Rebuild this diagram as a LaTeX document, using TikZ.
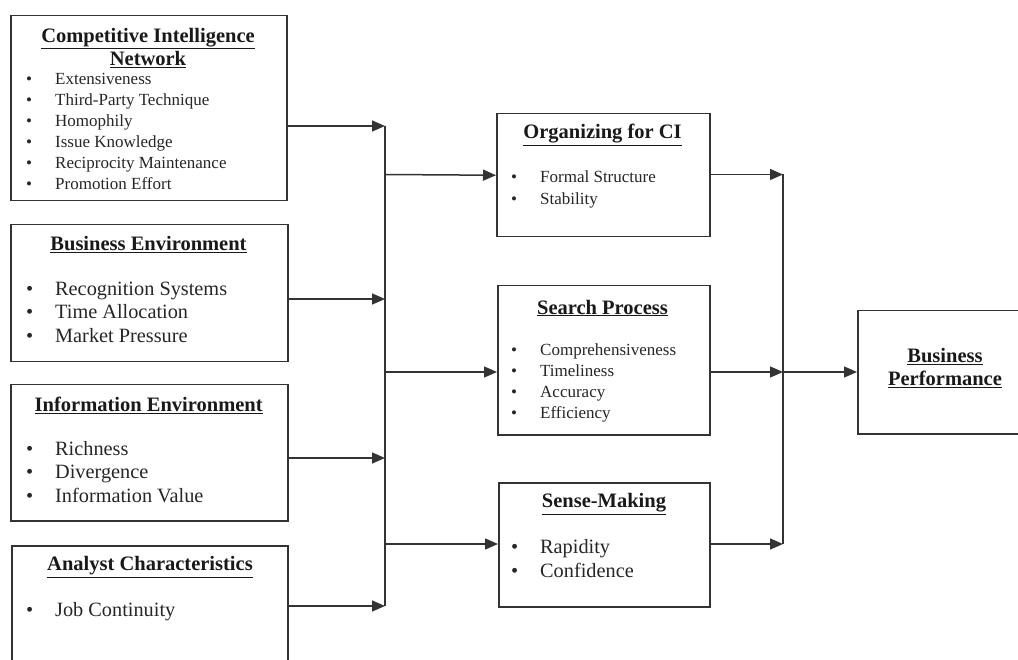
\documentclass[tikz,border=0pt]{standalone}
\usepackage{fontspec}
\setmainfont{Liberation Serif}
\usetikzlibrary{arrows.meta}
\newcommand{\myitem}[1]{\makebox[29pt][l]{\textbullet}#1}
\begin{document}
\begin{tikzpicture}[x=1pt,y=-1pt,
  box/.style={draw=black!80,line width=1.5pt,inner sep=0pt,anchor=north west},
  ttl/.style={font=\fontsize{20.5}{23}\selectfont\bfseries,align=center,inner sep=0pt,text=black!90},
  itm/.style={font=\fontsize{20.3}{23}\selectfont,anchor=mid west,inner sep=0pt,text=black!85},
  sitm/.style={font=\fontsize{17}{20}\selectfont,anchor=mid west,inner sep=0pt,text=black!85},
  conn/.style={draw=black!80,line width=1.5pt},
  arr/.style={conn,-{Triangle[length=13pt,width=11pt]}}
]
\useasboundingbox (0,0) rectangle (1018,660);
\clip (0,0) rectangle (1018,660);
\fill[white] (0,0) rectangle (1018,660);

% boxes
\node[box,minimum width=276pt,minimum height=185pt] (ci) at (10,15) {};
\node[box,minimum width=277pt,minimum height=137pt] (be) at (10,224) {};
\node[box,minimum width=277pt,minimum height=136pt] (ie) at (10,384) {};
\node[box,minimum width=276pt,minimum height=140pt] (ac) at (11,545) {};
\node[box,minimum width=213pt,minimum height=123pt] (org) at (496,113) {};
\node[box,minimum width=212pt,minimum height=149pt] (sp) at (497,285) {};
\node[box,minimum width=211pt,minimum height=124pt] (sm) at (498,482) {};
\node[box,minimum width=180pt,minimum height=123pt] (bp) at (857,310) {};

% titles
\node[ttl] (tci) at (148,48) {\underline{Competitive Intelligence}\\\underline{Network}};
\node[ttl] (tbe) at (148.5,245) {\underline{Business Environment}};
\node[ttl] (tie) at (148.7,405) {\underline{Information Environment}};
\node[ttl] (tac) at (150,567) {\underline{Analyst Characteristics}};
\node[ttl] (torg) at (602.5,135) {\underline{Organizing for CI}};
\node[ttl] (tsp) at (602.5,308) {\underline{Search Process}};
\node[ttl] (tsm) at (604,504) {\underline{Sense-Making}};
\node[ttl] (tbp) at (945,368) {\underline{Business}\\\underline{Performance}};

% items
\node[sitm] (ci1) at (26,82) {\myitem{Extensiveness}};
\node[sitm] (ci2) at (26,103) {\myitem{Third-Party Technique}};
\node[sitm] (ci3) at (26,124) {\myitem{Homophily}};
\node[sitm] (ci4) at (26,145) {\myitem{Issue Knowledge}};
\node[sitm] (ci5) at (26,166) {\myitem{Reciprocity Maintenance}};
\node[sitm] (ci6) at (26,187) {\myitem{Promotion Effort}};

\node[itm] (be1) at (26,293) {\myitem{Recognition Systems}};
\node[itm] (be2) at (26,316.5) {\myitem{Time Allocation}};
\node[itm] (be3) at (26,340) {\myitem{Market Pressure}};

\node[itm] (ie1) at (26,453) {\myitem{Richness}};
\node[itm] (ie2) at (26,476.5) {\myitem{Divergence}};
\node[itm] (ie3) at (26,500) {\myitem{Information Value}};

\node[itm] (ac1) at (26,614) {\myitem{Job Continuity}};

\node[sitm] (org1) at (511,180) {\myitem{Formal Structure}};
\node[sitm] (org2) at (511,202) {\myitem{Stability}};

\node[sitm] (sp1) at (511,353) {\myitem{Comprehensiveness}};
\node[sitm] (sp2) at (511,374) {\myitem{Timeliness}};
\node[sitm] (sp3) at (511,395) {\myitem{Accuracy}};
\node[sitm] (sp4) at (511,416) {\myitem{Efficiency}};

\node[itm] (sm1) at (511,551) {\myitem{Rapidity}};
\node[itm] (sm2) at (511,575) {\myitem{Confidence}};

% connectors
\coordinate (L1) at (385,126);
\coordinate (L2) at (385,299);
\coordinate (L3) at (385,458);
\coordinate (L4) at (385,606);
\coordinate (M1) at (385,174.5);
\coordinate (M2) at (385,372);
\coordinate (M3) at (385,544);
\coordinate (R1) at (783,174.5);
\coordinate (R2) at (783,372);
\coordinate (R3) at (783,544);

\draw[arr] (ci.east |- L1) -- (L1);
\draw[arr] (be.east |- L2) -- (L2);
\draw[arr] (ie.east |- L3) -- (L3);
\draw[arr] (ac.east |- L4) -- (L4);
\draw[conn] (L1) -- (L4);
\draw[arr] (M1) -- (org.west);
\draw[arr] (M2) -- (sp.west |- M2);
\draw[arr] (M3) -- (sm.west |- M3);

\draw[arr] (org.east |- R1) -- (R1);
\draw[arr] (sp.east |- R2) -- (R2);
\draw[arr] (sm.east |- R3) -- (R3);
\draw[conn] (R1) -- (R3);
\draw[arr] (R2) -- (bp.west |- R2);
\end{tikzpicture}
\end{document}
